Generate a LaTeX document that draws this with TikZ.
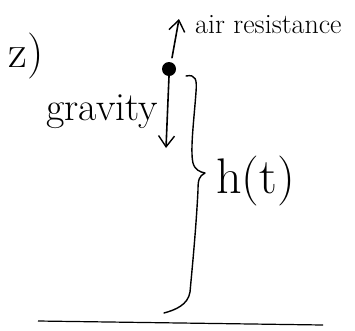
\documentclass[tikz,border=0pt]{standalone}
\usetikzlibrary{arrows.meta}
\begin{document}
\begin{tikzpicture}[x=1pt,y=-1pt,
  ink/.style={line width=1.6pt,line cap=round,line join=round},
  arr/.style={ink,-{Straight Barb[length=11pt,width=16pt,line width=1.4pt]}},
  lbl/.style={inner sep=0pt,anchor=base west}]
\useasboundingbox (0,0) rectangle (355,330);
% label "z)"
\node[inner sep=0pt] (num) at (26,56) {\fontsize{46}{46}\selectfont z)};
% mass
\node[circle,fill=black,inner sep=0pt,minimum size=14pt] (dot) at (169,69) {};
% forces
\coordinate (airtip) at (179,19);
\coordinate (gravtip) at (166,148);
\draw[arr] ([xshift=3pt,yshift=4pt]dot.north) -- (airtip);
\draw[arr] (dot.south) -- (gravtip);
\node[lbl] (air) at (195,33) {\fontsize{28}{28}\selectfont air resistance};
\node[lbl] (grav) at (46,120) {\fontsize{40}{40}\selectfont gravity};
% brace
\draw[ink,line width=1.4pt] (186,76) .. controls (196,74) and (197,80) .. (196,92)
  .. controls (194,120) and (190,150) .. (193,163)
  .. controls (195,170) and (200,172) .. (205,173)
  .. controls (199,176) and (198,180) .. (198,190)
  .. controls (196,230) and (192,270) .. (190,292)
  .. controls (188,305) and (175,310) .. (164,313);
\node[lbl] (h) at (216,193) {\fontsize{50}{50}\selectfont h(t)};
% ground
\coordinate (gl) at (38,321);
\coordinate (gr) at (323,325);
\draw[line width=1.2pt] (gl) -- (gr);
\end{tikzpicture}
\end{document}
